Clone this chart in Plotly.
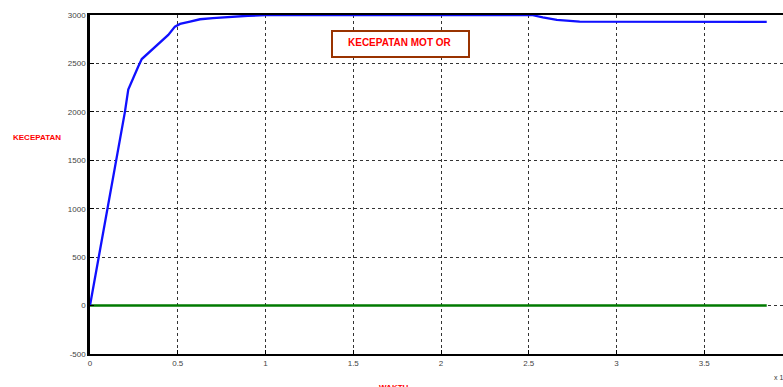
import plotly.graph_objects as go

# time (x 10^4) and motor speed
waktu = [0, 0.10, 0.152, 0.199, 0.218, 0.237, 0.256, 0.275, 0.295, 0.332, 0.37, 0.408,
         0.446, 0.484, 0.513, 0.57, 0.627, 0.70, 0.80, 0.90, 1.00, 1.50, 2.00, 2.50,
         2.517, 2.58, 2.66, 2.79, 3.00, 3.50, 3.856]
kecepatan = [0, 995, 1511, 2000, 2230, 2315, 2384, 2469, 2545, 2607, 2668, 2736,
             2795, 2880, 2908, 2931, 2956, 2968, 2982, 2992, 2998, 3000, 3000, 3000,
             3000, 2975, 2949, 2931, 2930, 2930, 2930]
ref_waktu = [0, 3.856]
ref_nilai = [0, 0]

x_ticks = [0, 0.5, 1, 1.5, 2, 2.5, 3, 3.5]
x_ticklabels = ["0", "0.5", "1", "1.5", "2", "2.5", "3", "3.5"]
y_ticks = [-500, 0, 500, 1000, 1500, 2000, 2500, 3000]
y_ticklabels = ["-500", "0", "500", "1000", "1500", "2000", "2500", "3000"]

W, H = 783, 387
L, T, B = 90, 15, 33
pw, ph = W - L, H - T - B

fig = go.Figure()
fig.add_trace(go.Scatter(x=ref_waktu, y=ref_nilai, mode="lines",
                         line=dict(color="#007a00", width=2.5), showlegend=False))
fig.add_trace(go.Scatter(x=waktu, y=kecepatan, mode="lines",
                         line=dict(color="#1010ff", width=2.3), showlegend=False))

font = "Liberation Sans, Arial, sans-serif"
fig.update_layout(
    width=W, height=H,
    margin=dict(l=L, r=0, t=T, b=B),
    paper_bgcolor="white", plot_bgcolor="white",
    font=dict(family=font, size=8, color="#444"),
    xaxis=dict(range=[0, pw / 175.5], tickvals=x_ticks, ticktext=x_ticklabels,
               showgrid=True, gridcolor="#333", griddash="dot", gridwidth=1,
               showline=True, linecolor="black", linewidth=2, mirror=True,
               ticks="inside", ticklen=4, tickcolor="black", zeroline=False),
    yaxis=dict(range=[-500, 3000], tickvals=y_ticks, ticktext=y_ticklabels,
               showgrid=True, gridcolor="#333", griddash="dot", gridwidth=1,
               showline=True, linecolor="black", linewidth=2.5,
               ticks="inside", ticklen=4, tickcolor="black", zeroline=False),
)

def px_x(p):
    return (p - L) / pw

def px_y(p):
    return (H - B - p) / ph

fig.add_shape(type="rect", xref="paper", yref="paper",
              x0=px_x(332), x1=px_x(469), y0=px_y(57), y1=px_y(31),
              line=dict(color="#993300", width=2), fillcolor="white", layer="above")
fig.add_annotation(xref="paper", yref="paper", x=px_x(400), y=px_y(42),
                   xanchor="center", yanchor="middle",
                   text="<b>KECEPATAN MOT OR</b>", showarrow=False,
                   font=dict(family=font, size=10, color="#ff0000"))
fig.add_annotation(xref="paper", yref="paper", x=px_x(37), y=px_y(137),
                   xanchor="center", yanchor="middle",
                   text="<b>KECEPATAN</b>", showarrow=False,
                   font=dict(family=font, size=8, color="#ff0000"))
fig.add_annotation(xref="paper", yref="paper", x=px_x(394), y=px_y(387),
                   xanchor="center", yanchor="middle",
                   text="<b>WAKTU</b>", showarrow=False,
                   font=dict(family=font, size=8, color="#ff0000"))
fig.add_annotation(xref="paper", yref="paper", x=px_x(772), y=px_y(377),
                   text="x 10<sup>4</sup>", showarrow=False, xanchor="left",
                   yanchor="middle",
                   font=dict(family=font, size=7, color="#333"))

fig.write_html("out.html", config={"displayModeBar": False},
               post_script="document.body.style.margin='0px';")
